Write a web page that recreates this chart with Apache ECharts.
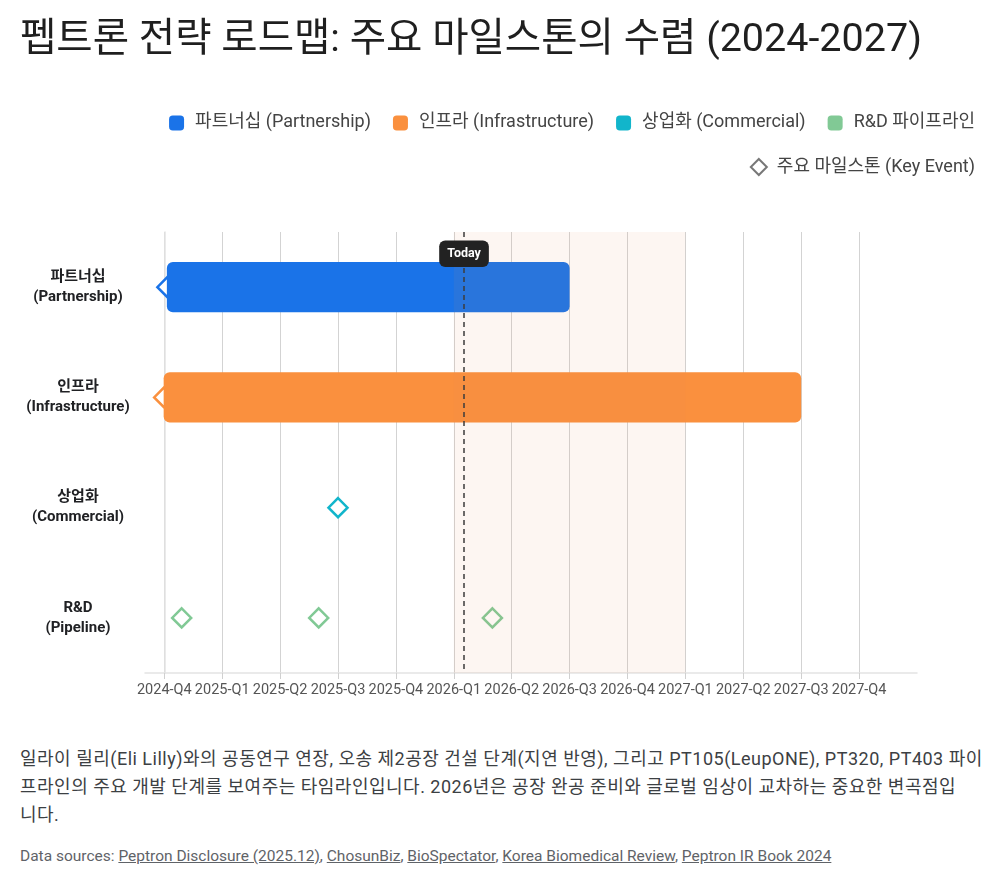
<!DOCTYPE html>
<html>
<head>
<meta charset="utf-8">
<script src="https://cdn.jsdelivr.net/npm/echarts@6/dist/echarts.min.js"></script>
<style>
  html, body { margin: 0; padding: 0; background: #fff; }
  body { width: 1000px; height: 887px; position: relative; overflow: hidden;
         font-family: Roboto, "Noto Sans CJK KR", sans-serif; }
  #chart { position: absolute; left: 0; top: 0; width: 1000px; height: 740px; }
  #desc { position: absolute; left: 20px; top: 745px; width: 975px; margin: 0; white-space: nowrap;
          font-size: 18px; letter-spacing: 0.5px; line-height: 28px; color: #3c4043; }
  #sources { position: absolute; left: 20px; top: 847px; margin: 0;
             font-size: 15.5px; color: #5f6368; }
  #sources a { color: #5f6368; text-decoration: underline; }
</style>
</head>
<body>
<div id="chart"></div>
<p id="desc">일라이 릴리(Eli Lilly)와의 공동연구 연장, 오송 제2공장 건설 단계(지연 반영), 그리고 PT105(LeupONE), PT320, PT403 파이<br>프라인의 주요 개발 단계를 보여주는 타임라인입니다. 2026년은 공장 완공 준비와 글로벌 임상이 교차하는 중요한 변곡점입<br>니다.</p>
<p id="sources">Data sources: <a>Peptron Disclosure (2025.12)</a>, <a>ChosunBiz</a>, <a>BioSpectator</a>, <a>Korea Biomedical Review</a>, <a>Peptron IR Book 2024</a></p>
<script>
  // ---- data ----
  var rowLabels = ["파트너십\n(Partnership)", "인프라\n(Infrastructure)", "상업화\n(Commercial)", "R&D\n(Pipeline)"];
  var legendNames = ["파트너십 (Partnership)", "인프라 (Infrastructure)", "상업화 (Commercial)", "R&D 파이프라인"];
  var rowColors = ["#1a73e8", "#fa903e", "#12b5cb", "#81c995"];

  // phase bars
  var barRow = [0, 1];
  var barStart = ["2024-10-05", "2024-09-30"];
  var barEnd = ["2026-07-01", "2027-07-01"];

  // key events (diamonds)
  var eventRow = [0, 1, 2, 3, 3, 3];
  var eventDate = ["2024-10-05", "2024-09-30", "2025-07-01", "2024-10-28", "2025-06-01", "2026-03-01"];

  var quarterLabels = ["2024-Q4", "2025-Q1", "2025-Q2", "2025-Q3", "2025-Q4", "2026-Q1", "2026-Q2",
    "2026-Q3", "2026-Q4", "2027-Q1", "2027-Q2", "2027-Q3", "2027-Q4"];
  var axisStart = "2024-09-01";
  var axisEnd = "2028-01-01";
  var todayDate = "2026-01-17";
  var focusWindow = ["2026-01-01", "2027-01-01"];

  // months since 2024-10-01
  function toMonths(s) {
    var p = s.split("-");
    return (Number(p[0]) - 2024) * 12 + (Number(p[1]) - 10) + (Number(p[2]) - 1) / 30;
  }
  var quarterValues = quarterLabels.map(function (q) {
    var y = Number(q.slice(0, 4));
    var n = Number(q.slice(6));
    return toMonths(y + "-" + String((n - 1) * 3 + 1).padStart(2, "0") + "-01");
  });

  var FONT = 'Roboto, "Noto Sans CJK KR", sans-serif';

  function renderBar(params, api) {
    var row = api.value(0);
    var p0 = api.coord([api.value(1), row]);
    var p1 = api.coord([api.value(2), row]);
    var h = api.size([0, 1])[1] * 0.455;
    return {
      type: "rect",
      shape: { x: p0[0], y: p0[1] - h / 2, width: p1[0] - p0[0], height: h, r: 6 },
      style: { fill: api.visual("color") }
    };
  }

  var series = legendNames.map(function (name, i) {
    var data = [];
    barRow.forEach(function (r, k) {
      if (r === i) data.push([r, toMonths(barStart[k]), toMonths(barEnd[k])]);
    });
    return {
      name: name,
      type: "custom",
      z: 3,
      color: rowColors[i],
      itemStyle: { color: rowColors[i] },
      renderItem: renderBar,
      encode: { x: [1, 2], y: 0 },
      data: data,
      silent: true
    };
  });

  series.push({
    name: "주요 마일스톤 (Key Event)",
    type: "scatter",
    z: 2,
    symbol: "diamond",
    symbolSize: 19,
    silent: true,
    data: eventDate.map(function (d, k) {
      return {
        value: [toMonths(d), eventRow[k]],
        itemStyle: { color: "#ffffff", borderColor: rowColors[eventRow[k]], borderWidth: 2.5, opacity: 1 }
      };
    }),
    markArea: {
      silent: true,
      z: 4,
      itemStyle: { color: "rgba(230,145,85,0.08)" },
      data: [[{ xAxis: toMonths(focusWindow[0]) }, { xAxis: toMonths(focusWindow[1]) }]]
    },
    markLine: {
      silent: true,
      symbol: "none",
      z: 6,
      lineStyle: { color: "#3c3c3c", type: [5, 4], width: 1.5 },
      label: {
        show: true,
        position: "start",
        distance: -35,
        formatter: "Today",
        color: "#fff",
        fontWeight: "bold",
        fontSize: 12.5,
        fontFamily: FONT,
        backgroundColor: "#222",
        borderRadius: 6,
        padding: [7, 8]
      },
      data: [{ xAxis: toMonths(todayDate) }]
    }
  });

  var chart = echarts.init(document.getElementById("chart"));
  chart.setOption({
    animation: false,
    textStyle: { fontFamily: FONT },
    title: {
      text: "펩트론 전략 로드맵: 주요 마일스톤의 수렴 (2024-2027)",
      left: 15,
      top: 16,
      textStyle: { fontSize: 39.5, fontWeight: "normal", color: "#1f1f1f", fontFamily: FONT }
    },
    legend: [
      {
        data: legendNames,
        right: 20,
        top: 109,
        icon: "roundRect",
        itemWidth: 15,
        itemHeight: 15,
        itemGap: 22,
        textStyle: { fontSize: 18, color: "#444", fontFamily: FONT, padding: [0, 0, 0, 6] }
      },
      {
        data: [{
          name: "주요 마일스톤 (Key Event)",
          icon: "diamond",
          itemStyle: { color: "#fff", borderColor: "#555", borderWidth: 2 }
        }],
        right: 20,
        top: 153,
        itemWidth: 16,
        itemHeight: 16,
        textStyle: { fontSize: 18, color: "#444", fontFamily: FONT, padding: [0, 0, 0, 5] }
      }
    ],
    grid: { left: 145, right: 83, top: 232, bottom: 67 },
    xAxis: {
      type: "value",
      min: toMonths(axisStart),
      max: toMonths(axisEnd),
      axisLine: { show: true, lineStyle: { color: "#e3e3e3", width: 1.5 } },
      axisTick: { show: true, customValues: quarterValues, length: 6, lineStyle: { color: "#d0d0d0" } },
      axisLabel: {
        customValues: quarterValues,
        color: "#555",
        fontSize: 14.5,
        margin: 10,
        formatter: function (v) {
          for (var i = 0; i < quarterValues.length; i++) {
            if (Math.abs(quarterValues[i] - v) < 0.01) return quarterLabels[i];
          }
          return "";
        }
      },
      splitLine: { show: true, lineStyle: { color: "#d3d3d3", width: 1 } }
    },
    yAxis: {
      type: "category",
      inverse: true,
      data: rowLabels,
      axisLine: { show: true, lineStyle: { color: "#e3e3e3", width: 1.5 } },
      axisTick: { show: false },
      splitLine: { show: false },
      axisLabel: {
        align: "center",
        margin: 67,
        fontSize: 15,
        fontWeight: "bold",
        color: "#202124",
        lineHeight: 20
      }
    },
    series: series
  });
</script>
</body>
</html>
